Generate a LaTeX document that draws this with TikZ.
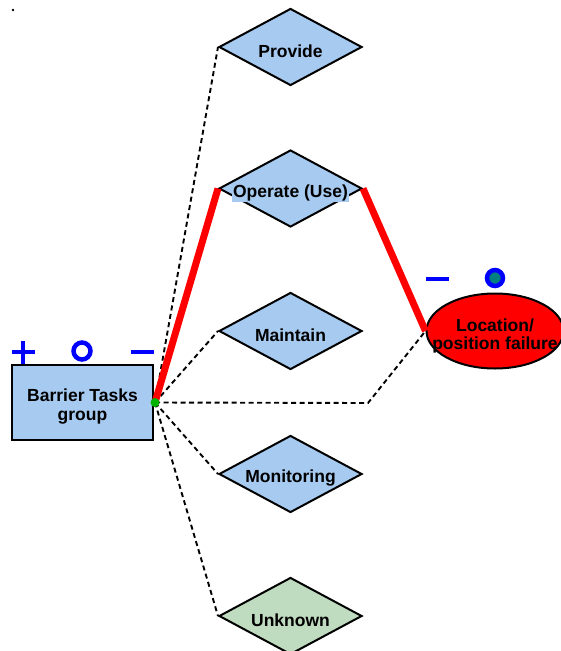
\documentclass[tikz,border=0pt]{standalone}
\usepackage{fontspec}
\setmainfont{Liberation Sans}
\usetikzlibrary{shapes.geometric,calc}
\definecolor{boxblue}{RGB}{166,202,240}
\definecolor{boxgreen}{RGB}{192,220,192}
\definecolor{symblue}{RGB}{0,0,255}
\definecolor{teal2}{RGB}{0,128,128}
\tikzset{
  x=1pt, y=-1pt,
  lbl/.style={font=\fontsize{17.5}{18.5}\selectfont\bfseries, align=center},
  dia/.style={diamond, draw=black, line width=2pt, fill=boxblue, minimum width=143pt, minimum height=77pt, aspect=1.86, inner sep=0pt},
  dashline/.style={draw=black, line width=1.9pt, dash pattern=on 5pt off 3.5pt},
  redline/.style={draw=red, line width=7pt},
  sym/.style={draw=symblue, line width=4.5pt},
}
\begin{document}
\begin{tikzpicture}
\useasboundingbox (0,0) rectangle (561,651);
% nodes
\node[draw=black, line width=2pt, fill=boxblue, minimum width=141pt, minimum height=75pt, inner sep=0pt] (bt) at (82.5,402.5) {};
\node[dia] (prov) at (290.5,47) {};
\node[dia] (oper) at (290.5,188.5) {};
\node[dia] (main) at (290.5,331) {};
\node[dia] (moni) at (290.5,474) {};
\node[dia, fill=boxgreen] (unkn) at (290.5,616) {};
\node[ellipse, draw=black, line width=2pt, fill=red, minimum width=137pt, minimum height=75pt, inner sep=0pt] (loc) at (495,331) {};
% anchor point
\coordinate (src) at (155,402.5);
\coordinate (bend) at (368,403);
% dashed connectors
\draw[dashline] (src) -- (prov.west);
\draw[dashline] (src) -- (oper.west);
\draw[dashline] (src) -- (main.west);
\draw[dashline] (src) -- (moni.west);
\draw[dashline] (src) -- (unkn.west);
\draw[dashline] (src) -- (bend) -- (loc.west);
% red path
\draw[redline, line join=round] (src) -- (oper.west);
\draw[redline, line join=round] (oper.east) -- (loc.west);
\fill[green!70!black] (src) circle (4.5pt);
% labels
\node[lbl] (tbt) at ($(bt.center)+(0,4)$) {Barrier Tasks\\group};
\node[lbl] (tprov) at ($(prov.center)+(0,4)$) {Provide};
\node[lbl, fill=boxblue, inner sep=1.5pt] (toper) at ($(oper.center)+(0,4)$) {Operate (Use)};
\node[lbl] (tmain) at ($(main.center)+(0,4)$) {Maintain};
\node[lbl] (tmoni) at ($(moni.center)+(0,4)$) {Monitoring};
\node[lbl] (tunkn) at ($(unkn.center)+(0,4)$) {Unknown};
\node[lbl] (tloc) at ($(loc.center)+(0,5)$) {Location/\\position failure};
% symbols above barrier box
\coordinate (plus) at (23,352);
\draw[sym] ($(plus)+(-11.5,0)$) -- ($(plus)+(11.5,0)$);
\draw[sym] ($(plus)+(0,-11.5)$) -- ($(plus)+(0,11.5)$);
\coordinate (circ1) at (82,351);
\draw[sym] (circ1) circle (8.5pt);
\coordinate (minus1) at (142,352);
\draw[sym] ($(minus1)+(-11.5,0)$) -- ($(minus1)+(11.5,0)$);
% symbols above ellipse
\coordinate (minus2) at (437,279);
\draw[sym] ($(minus2)+(-11.5,0)$) -- ($(minus2)+(11.5,0)$);
\coordinate (circ2) at (495,278);
\filldraw[draw=symblue, fill=teal2, line width=4.5pt] (circ2) circle (8pt);
% stray dot
\fill[black] (13,10) circle (1.3pt);
\end{tikzpicture}
\end{document}
